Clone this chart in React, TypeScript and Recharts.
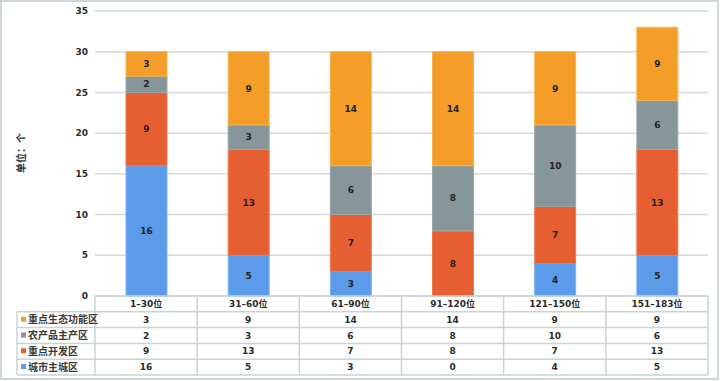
import React from 'react';
import { BarChart, Bar, XAxis, YAxis, CartesianGrid, LabelList } from 'recharts';

const CATEGORIES = ['1–30位', '31–60位', '61–90位', '91–120位', '121–150位', '151–183位'];
const URBAN = [16, 5, 3, 0, 4, 5];
const DEV = [9, 13, 7, 8, 7, 13];
const AGRI = [2, 3, 6, 8, 10, 6];
const ECO = [3, 9, 14, 14, 9, 9];
const Y_TICKS = [0, 5, 10, 15, 20, 25, 30, 35];

const SERIES = [
  { key: 'urban', name: '城市主城区', values: URBAN, color: '#5B9BEA', edge: '#7DB2F2' },
  { key: 'dev', name: '重点开发区', values: DEV, color: '#E65F33', edge: '#F07A50' },
  { key: 'agri', name: '农产品主产区', values: AGRI, color: '#87969A', edge: '#9AA8AB' },
  { key: 'eco', name: '重点生态功能区', values: ECO, color: '#F49E29', edge: '#F8B452' },
];
const TABLE_ROWS = [SERIES[3], SERIES[2], SERIES[1], SERIES[0]];

const data = CATEGORIES.map((c, i) => {
  const row: any = { name: c };
  SERIES.forEach((s) => (row[s.key] = s.values[i]));
  return row;
});

const W = 720;
const H = 381;
const X_AXIS_H = 85;
const M = { top: 11, right: 12, bottom: 0, left: 0 };
const Y_AXIS_W = 95;
const PLOT_LEFT = M.left + Y_AXIS_W;
const PLOT_W = W - M.right - PLOT_LEFT;
const TABLE_TOP = H - X_AXIS_H;
const ROW_H = 15.8;
const LEGEND_LEFT = 17;
const LINE = '#C9D3D6';
const TEXT = '#2B2B2B';
const FONT = '"DejaVu Sans", "Noto Sans CJK SC", sans-serif';

function TableTick(props: any) {
  const { x, payload } = props;
  const i = payload.index;
  const cellW = PLOT_W / CATEGORIES.length;
  const right = x + cellW / 2;
  const left = x - cellW / 2;
  const bottom = TABLE_TOP + ROW_H * 5;
  const els: any[] = [];
  if (i === 0) {
    els.push(<line key="h0" x1={left} x2={left + PLOT_W} y1={TABLE_TOP} y2={TABLE_TOP} stroke={LINE} strokeWidth={1.5} />);
    for (let r = 1; r <= 5; r++) {
      const yy = TABLE_TOP + ROW_H * r;
      els.push(<line key={'h' + r} x1={LEGEND_LEFT} x2={left + PLOT_W} y1={yy} y2={yy} stroke={LINE} strokeWidth={1.5} />);
    }
    els.push(<line key="vl" x1={LEGEND_LEFT} x2={LEGEND_LEFT} y1={TABLE_TOP + ROW_H} y2={bottom} stroke={LINE} strokeWidth={1.5} />);
    els.push(<line key="v0" x1={left} x2={left} y1={TABLE_TOP} y2={bottom} stroke={LINE} strokeWidth={1.5} />);
    TABLE_ROWS.forEach((s, r) => {
      const cy = TABLE_TOP + ROW_H * (r + 1.5);
      els.push(<rect key={'m' + r} x={LEGEND_LEFT + 4} y={cy - 3} width={5} height={5} fill={s.color} />);
      els.push(
        <text key={'l' + r} x={LEGEND_LEFT + 11} y={cy} dy="0.35em" fontSize={10} fontWeight="bold" fill="#3a3a3a" fontFamily={FONT}>
          {s.name}
        </text>
      );
    });
  }
  els.push(<line key="vr" x1={right} x2={right} y1={TABLE_TOP} y2={bottom} stroke={LINE} strokeWidth={1.5} />);
  els.push(
    <text key="hd" x={x} y={TABLE_TOP + ROW_H * 0.5} dy="0.35em" textAnchor="middle" fontSize={9} fontWeight="bold" fill={TEXT} fontFamily={FONT}>
      {payload.value}
    </text>
  );
  TABLE_ROWS.forEach((s, r) => {
    els.push(
      <text key={'v' + r} x={x} y={TABLE_TOP + ROW_H * (r + 1.5)} dy="0.35em" textAnchor="middle" fontSize={9} fontWeight="bold" fill={TEXT} fontFamily={FONT}>
        {s.values[i]}
      </text>
    );
  });
  return <g>{els}</g>;
}

function YTick(props: any) {
  const { y, payload } = props;
  return (
    <text x={PLOT_LEFT - 7} y={y} dy="0.35em" textAnchor="end" fontSize={9} fontWeight="bold" fill={TEXT} fontFamily={FONT}>
      {payload.value}
    </text>
  );
}

const renderLabel = (props: any) => {
  const { x, y, width, height, value } = props;
  if (!value) return null;
  return (
    <text x={x + width / 2} y={y + height / 2} dy="0.35em" textAnchor="middle" fontSize={9} fontWeight="bold" fill="#222" fontFamily={FONT}>
      {value}
    </text>
  );
};

export default function App() {
  return (
    <div style={{ position: 'absolute', left: 0, top: 0, width: W, height: H, background: '#fff' }}>
      <svg width={W} height={H} style={{ position: 'absolute', left: 0, top: 0 }}>
        <rect x={1} y={1} width={W - 3} height={H - 3} fill="#fff" stroke="#CDD6D9" strokeWidth={2} />
        <text transform={`translate(21, 153) rotate(-90)`} textAnchor="middle" dy="0.35em" fontSize={10} fontWeight="bold" fill="#333" fontFamily={FONT}>
          单位：个
        </text>
      </svg>
      <div style={{ position: 'absolute', left: 0, top: 0 }}>
        <BarChart width={W} height={H} data={data} margin={M} barSize={41}>
          <CartesianGrid vertical={false} stroke="#D2DADC" strokeWidth={1.5} />
          <XAxis dataKey="name" interval={0} axisLine={false} tickLine={false} height={X_AXIS_H} tick={<TableTick />} />
          <YAxis width={Y_AXIS_W} domain={[0, 35]} ticks={Y_TICKS} axisLine={false} tickLine={false} tick={<YTick />} />
          {SERIES.map((s) => (
            <Bar key={s.key} dataKey={s.key} stackId="a" fill={s.color} stroke={s.edge} strokeWidth={1} isAnimationActive={false}>
              <LabelList dataKey={s.key} content={renderLabel} />
            </Bar>
          ))}
        </BarChart>
      </div>
    </div>
  );
}
